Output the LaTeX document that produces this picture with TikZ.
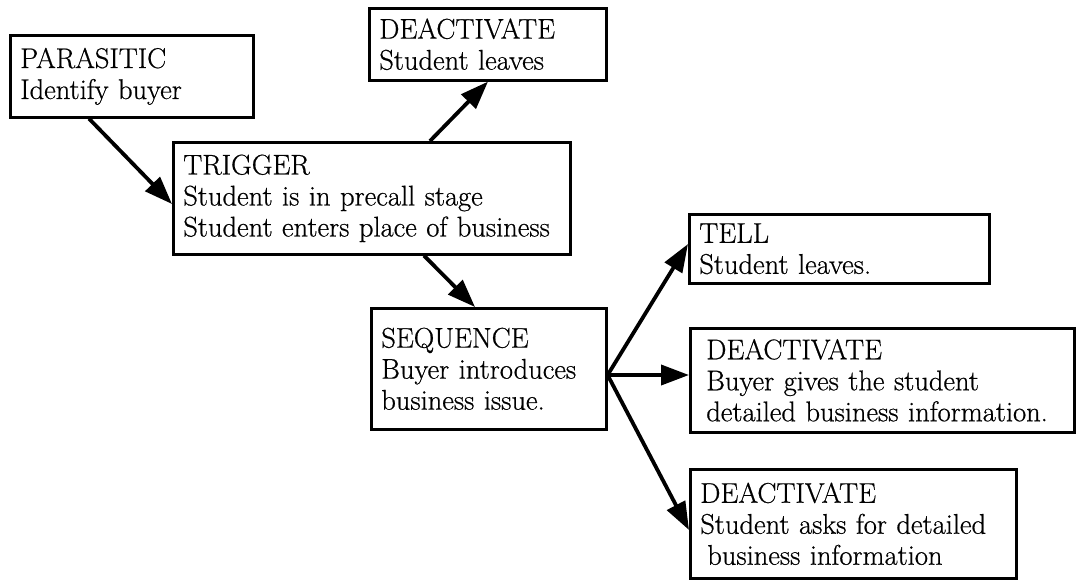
\documentclass[tikz,border=0pt]{standalone}
\usepackage{fontspec}
\usetikzlibrary{arrows.meta}
% slightly heavier roman for the stage labels
\newfontfamily\stagefont{Latin Modern Roman}[FakeBold=0.6]
\begin{document}
\begin{tikzpicture}[x=1pt,y=-1pt,
  stage/.style={draw, line width=2.6pt, rectangle, anchor=north west,
    inner xsep=10pt, inner ysep=0pt, align=left,
    font=\stagefont\fontsize{28.5}{31}\selectfont},
  flow/.style={line width=3.8pt, -{Triangle[length=28pt,width=20pt]}}
]
\useasboundingbox (0,0) rectangle (1076,579);

% script stages
\node[stage, text width=223pt, minimum height=82pt]  (par)  at (9,34)    {PARASITIC\\Identify buyer};
\node[stage, text width=217pt, minimum height=72pt]  (deTop) at (368,7)  {DEACTIVATE\\Student leaves};
\node[stage, text width=377pt, minimum height=112pt] (trig) at (172,141) {TRIGGER\\Student is in precall stage\\Student enters place of business};
\node[stage, text width=215pt, minimum height=121pt] (seq)  at (370,307) {SEQUENCE\\Buyer introduces\\business issue.};
\node[stage, text width=280pt, minimum height=69pt]  (tell) at (688,213) {TELL\\Student leaves.};
\node[stage, text width=364pt, minimum height=104pt] (deMid) at (689,327) {\hspace{6pt}DEACTIVATE\\\hspace{6pt}Buyer gives the student\\\hspace{6pt}detailed business information.};
\node[stage, text width=306pt, minimum height=109pt] (deBot) at (689,468) {DEACTIVATE\\Student asks for detailed\\\hspace{7pt}business information};

% transitions
\coordinate (fan) at ([yshift=-68pt]seq.north east);
\draw[flow] ([xshift=80pt]par.south west) -- ([yshift=-63pt]trig.north west);
\draw[flow] ([xshift=258pt]trig.north west) -- ([xshift=120pt]deTop.south west);
\draw[flow] ([xshift=252pt]trig.south west) -- ([xshift=105pt]seq.north west);
\draw[flow] (fan) -- ([yshift=-31pt]tell.north west);
\draw[flow] (fan) -- ([yshift=-48pt]deMid.north west);
\draw[flow] (fan) -- ([yshift=-62pt]deBot.north west);
\end{tikzpicture}
\end{document}
